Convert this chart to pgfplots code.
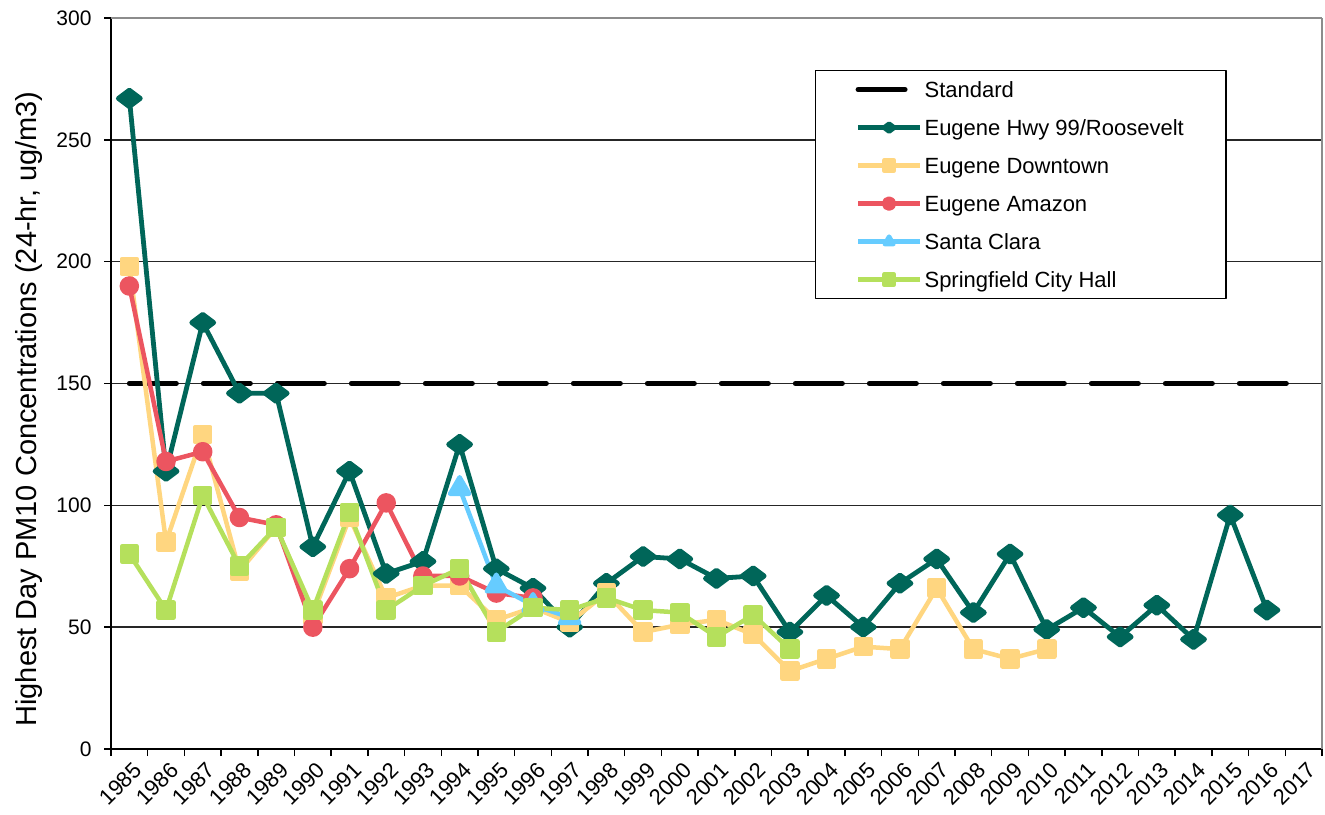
\documentclass[border=0pt]{standalone}
\usepackage{pgfplots}
\pgfplotsset{compat=1.18}
\usepackage{fontspec}
\setmainfont{Liberation Sans}
\setsansfont{Liberation Sans}

\definecolor{hwy}{RGB}{0,102,89}
\definecolor{downtown}{RGB}{255,214,128}
\definecolor{amazon}{RGB}{236,85,96}
\definecolor{santaclara}{RGB}{102,204,255}
\definecolor{springfield}{RGB}{181,224,92}

\begin{document}
\begin{tikzpicture}
\useasboundingbox (0,0) rectangle (1325pt,814pt);
\begin{axis}[
  at={(111pt,65pt)}, anchor=south west,
  scale only axis, width=1211pt, height=731pt,
  xmin=-0.5, xmax=32.5, ymin=0, ymax=300,
  axis x line*=bottom, axis y line*=left,
  axis line style={black, line width=1.8pt},
  /pgf/number format/assume math mode=true,
  tick label style={font=\fontsize{21}{22}\selectfont},
  tick align=outside, major tick length=7pt, minor tick length=7pt,
  xtick={0,...,32},
  xticklabels={1985,1986,1987,1988,1989,1990,1991,1992,1993,1994,1995,1996,1997,1998,1999,2000,2001,2002,2003,2004,2005,2006,2007,2008,2009,2010,2011,2012,2013,2014,2015,2016,2017},
  major x tick style={draw=none},
  minor xtick={-0.5,0.5,...,32.5},
  minor x tick style={black, line width=1.5pt},
  xticklabel style={rotate=45, anchor=north east, yshift=-2pt, xshift=2pt,
    font=\fontsize{22}{23}\selectfont},
  ytick={0,50,...,250},
  ytick style={black, line width=1.5pt},
  yticklabel style={xshift=-9pt},
  extra y ticks={300},
  extra y tick style={major grid style={gray!90, line width=1.6pt}},
  extra x ticks={32.5}, extra x tick labels={},
  extra x tick style={grid=major, major grid style={gray!90, line width=1.6pt}},
  ymajorgrids, major grid style={black!85, line width=1.4pt},
  ylabel={Highest Day PM10 Concentrations (24-hr, ug/m3)},
  ylabel style={at={(axis description cs:-0.068,0.465)}, anchor=center,
    font=\fontsize{29}{30}\selectfont},
  line join=round,
  legend cell align=left,
  legend style={
    at={(axis description cs:0.5813,0.9289)}, anchor=north west,
    draw=black, line width=1.3pt, fill=white,
    inner xsep=40pt, inner ysep=8.7pt,
    row sep=17.4pt, column sep=0pt,
    font=\fontsize{22}{24}\selectfont,
    nodes={text height=16pt, text depth=0.6pt, inner xsep=2pt, inner ysep=2pt, anchor=west},
  },
  legend image code/.code={
    \draw[mark repeat=2,mark phase=2,#1] plot coordinates {(0pt,0pt) (31pt,0pt) (62pt,0pt)};
  },
  legend image post style={mark size=5pt},
]

% PM10 24-hr standard
\addplot[black, line width=5pt, line cap=round, dash pattern=on 47pt off 27pt]
  coordinates {(0,150) (32,150)};
\addlegendentry{Standard}

% Eugene Hwy 99/Roosevelt
\addplot[hwy, line width=4.8pt, mark=diamond*, mark size=11pt,
  mark options={rotate=90, draw=none, fill=hwy}]
  coordinates {
  (0,267) (1,114) (2,175) (3,146) (4,146) (5,83) (6,114) (7,72) (8,77) (9,125)
  (10,74) (11,66) (12,50) (13,68) (14,79) (15,78) (16,70) (17,71) (18,48) (19,63)
  (20,50) (21,68) (22,78) (23,56) (24,80) (25,49) (26,58) (27,46) (28,59) (29,45)
  (30,96) (31,57)};
\addlegendentry{Eugene Hwy 99/Roosevelt}

% Eugene Downtown
\addplot[downtown, line width=4.5pt, mark=square*, mark size=7.5pt,
  mark options={draw=none, fill=downtown}]
  coordinates {
  (0,198) (1,85) (2,129) (3,73) (4,91) (5,55) (6,95) (7,62) (8,67) (9,67)
  (10,53) (11,58) (12,52) (13,64) (14,48) (15,51) (16,53) (17,47) (18,32) (19,37)
  (20,42) (21,41) (22,66) (23,41) (24,37) (25,41)};
\addlegendentry{Eugene Downtown}

% Eugene Amazon
\addplot[amazon, line width=4.5pt, mark=*, mark size=7.5pt,
  mark options={draw=none, fill=amazon}]
  coordinates {
  (0,190) (1,118) (2,122) (3,95) (4,92) (5,50) (6,74) (7,101) (8,71) (9,71)
  (10,64) (11,62)};
\addlegendentry{Eugene Amazon}

% Santa Clara
\addplot[santaclara, line width=4.5pt, mark=triangle*, mark size=11pt,
  mark options={draw=none, fill=santaclara}]
  coordinates {(9,107) (10,67) (11,59) (12,54)};
\addlegendentry{Santa Clara}

% Springfield City Hall
\addplot[springfield, line width=4.5pt, mark=square*, mark size=7.5pt,
  mark options={draw=none, fill=springfield}]
  coordinates {
  (0,80) (1,57) (2,104) (3,75) (4,91) (5,57) (6,97) (7,57) (8,67) (9,74)
  (10,48) (11,58) (12,57) (13,62) (14,57) (15,56) (16,46) (17,55) (18,41)};
\addlegendentry{Springfield City Hall}

\end{axis}
\end{tikzpicture}
\end{document}
